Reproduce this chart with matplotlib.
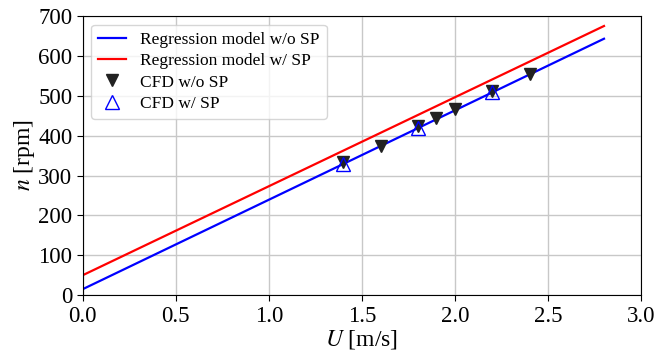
import numpy as np
import matplotlib
matplotlib.use("Agg")
import matplotlib.pyplot as plt

plt.rcParams['font.family'] = ['Liberation Serif', 'DejaVu Serif']
plt.rcParams['mathtext.fontset'] = 'stix'

# regression lines n = a*U + b
U_fit = np.array([0.0, 2.8])
slope_no_sp, icpt_no_sp = 224.3, 15.0
slope_sp, icpt_sp = 223.2, 50.0

# CFD points
U_cfd_no_sp = [1.4, 1.6, 1.8, 1.9, 2.0, 2.2, 2.4]
n_cfd_no_sp = [335, 374, 424, 443, 466, 512, 554]
U_cfd_sp = [1.4, 1.8, 2.2]
n_cfd_sp = [328, 418, 510]

fig = plt.figure(figsize=(6.57, 3.56), dpi=100)
ax = fig.add_axes([0.126, 0.171, 0.85, 0.784])

ax.plot(U_fit, slope_no_sp * U_fit + icpt_no_sp, color='blue', lw=1.6,
        label='Regression model w/o SP')
ax.plot(U_fit, slope_sp * U_fit + icpt_sp, color='red', lw=1.6,
        label='Regression model w/ SP')
ax.plot(U_cfd_no_sp, n_cfd_no_sp, 'v', color='#222222', ms=9, ls='none',
        label='CFD w/o SP')
ax.plot(U_cfd_sp, n_cfd_sp, '^', mfc='none', mec='blue', ms=10, mew=1.0,
        ls='none', label='CFD w/ SP')

ax.set_xlim(0, 3.0)
ax.set_ylim(0, 700)
ax.set_xticks(np.arange(0, 3.01, 0.5))
ax.set_yticks(np.arange(0, 701, 100))
ax.grid(True, color='#c8c8c8', lw=1.0)
ax.set_axisbelow(True)
ax.tick_params(labelsize=16.5, length=4)
ax.set_xlabel('$U$ [m/s]', fontsize=17, labelpad=1)
ax.set_ylabel('$n$ [rpm]', fontsize=17, labelpad=1)

ax.legend(loc='upper left', fontsize=12.5, handlelength=1.6,
          labelspacing=0.3, borderpad=0.4, framealpha=0.8)

fig.savefig('out.png', dpi=100)
